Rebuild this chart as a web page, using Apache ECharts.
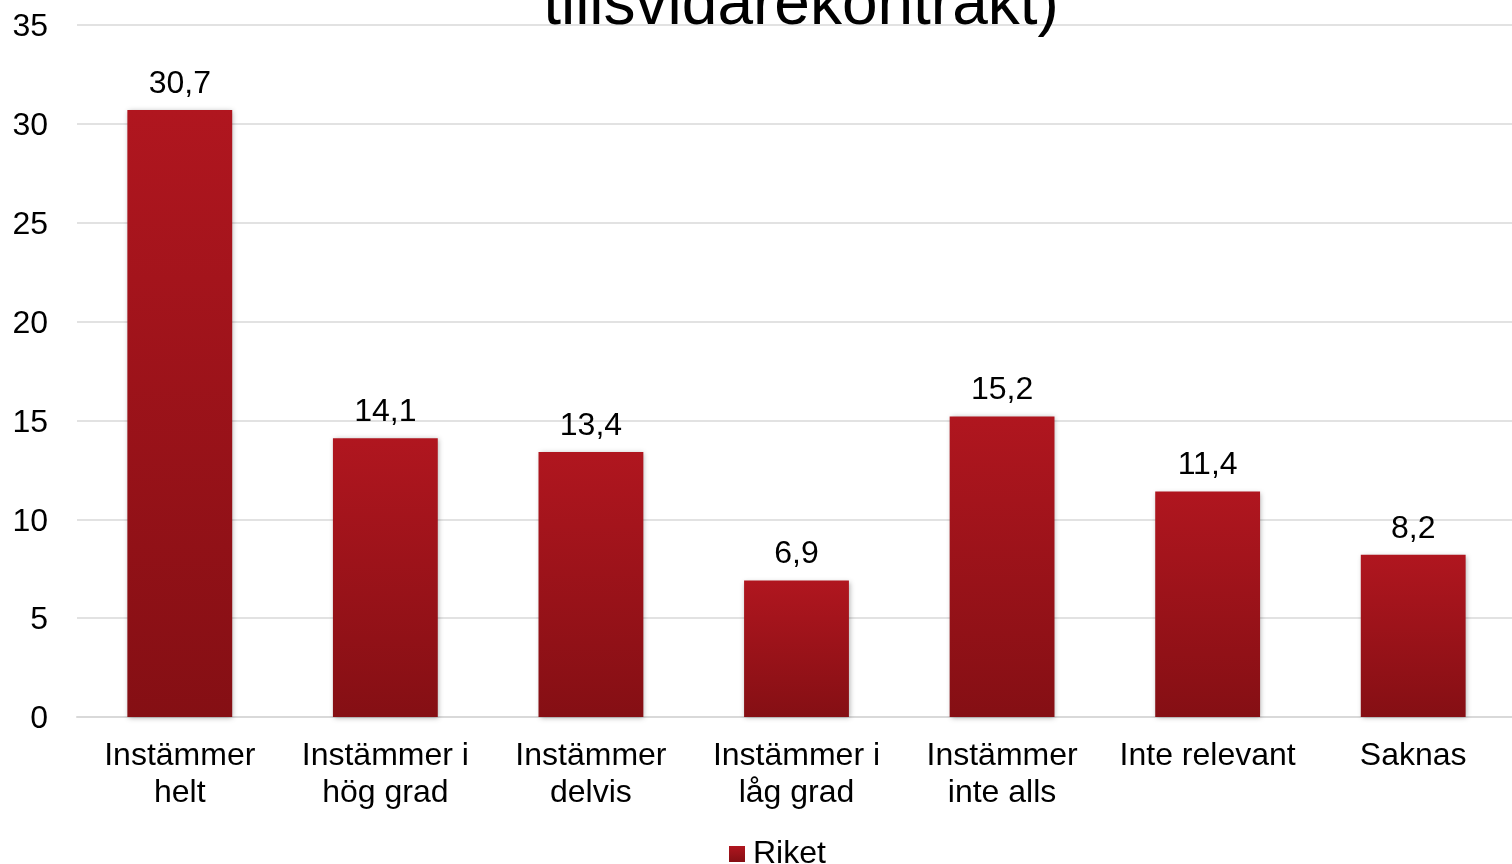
<!DOCTYPE html>
<html>
<head>
<meta charset="utf-8">
<script src="https://cdn.jsdelivr.net/npm/echarts@6/dist/echarts.min.js"></script>
<style>
html,body{margin:0;padding:0;background:#fff;}
#chart{width:1512px;height:864px;}
</style>
</head>
<body>
<div id="chart"></div>
<script>
// data
var categories=['Instämmer\nhelt','Instämmer i\nhög grad','Instämmer\ndelvis','Instämmer i\nlåg grad','Instämmer\ninte alls','Inte relevant','Saknas'];
var riket=[30.7,14.1,13.4,6.9,15.2,11.4,8.2];
var yTicks={min:0,max:35,interval:5};
var titleText='tillsvidarekontrakt)';

var font='"Liberation Sans", Arial, sans-serif';
var barColor=new echarts.graphic.LinearGradient(0,0,0,1,[
	{offset:0,color:'#b0161f'},
	{offset:1,color:'#850f14'}
]);

var myChart=echarts.init(document.getElementById('chart'));
var option={
	animation:false,
	title:{
		text:titleText,
		left:796,
		textAlign:'center',
		top:-31,
		textStyle:{fontFamily:font,fontSize:64,fontWeight:'normal',color:'#000'}
	},
	legend:{
		data:['Riket'],
		top:838,
		left:729,
		padding:0,
		itemWidth:16,
		itemHeight:16,
		itemGap:8,
		icon:'rect',
		textStyle:{fontFamily:font,fontSize:32,color:'#000',padding:[0,0,0,3]}
	},
	grid:{
		left:77,
		width:1439,
		top:25,
		bottom:147,
		containLabel:false,
		outerBoundsMode:'none'
	},
	xAxis:[{
		type:'category',
		data:categories,
		axisLine:{show:true,lineStyle:{color:'#d9d9d9',width:2}},
		axisTick:{show:false},
		axisLabel:{
			interval:0,
			margin:21,
			fontFamily:font,
			fontSize:32,
			lineHeight:37,
			color:'#000'
		}
	}],
	yAxis:[{
		type:'value',
		min:yTicks.min,
		max:yTicks.max,
		interval:yTicks.interval,
		axisLine:{show:false},
		axisTick:{show:false},
		splitLine:{show:true,lineStyle:{color:'#d9d9d9',width:1.5}},
		axisLabel:{
			margin:29,
			formatter:'{v|{value}}',
			rich:{v:{fontFamily:font,fontSize:32,color:'#000',padding:[5,0,0,0]}}
		}
	}],
	series:[{
		name:'Riket',
		type:'bar',
		data:riket,
		barWidth:'51%',
		itemStyle:{
			color:barColor,
			shadowColor:'rgba(0,0,0,0.3)',
			shadowBlur:5,
			shadowOffsetX:1,
			shadowOffsetY:1
		},
		label:{
			show:true,
			position:'top',
			distance:10,
			fontFamily:font,
			fontSize:32,
			color:'#000',
			formatter:function(p){return String(p.value).replace('.',',');}
		}
	}]
};
myChart.setOption(option);
</script>
</body>
</html>
